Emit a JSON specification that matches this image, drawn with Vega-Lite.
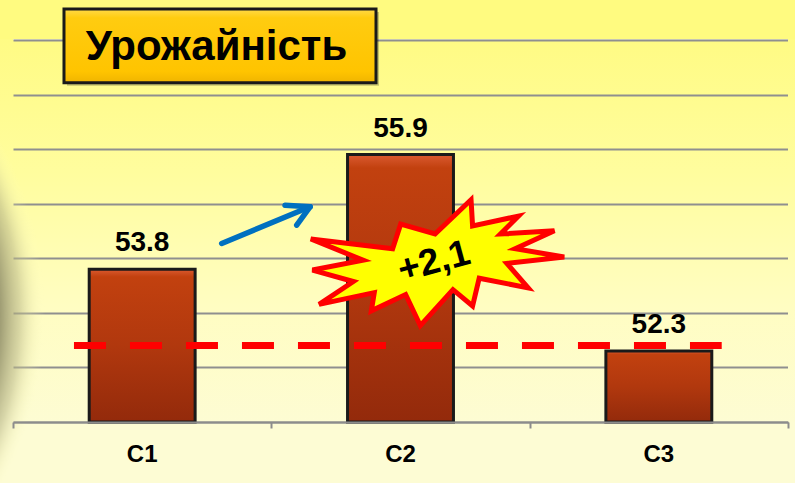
{
  "$schema": "https://vega.github.io/schema/vega-lite/v6.json",
  "width": 775,
  "height": 382,
  "autosize": {"type": "none"},
  "padding": {"left": 13, "top": 40, "right": 7, "bottom": 61},
  "background": "#FDFCD4",
  "config": {
    "font": "Liberation Sans",
    "view": {
      "stroke": null,
      "fill": {
        "gradient": "linear", "x1": 0, "y1": 0, "x2": 0, "y2": 1,
        "stops": [
          {"offset": 0, "color": "#FFFB84"},
          {"offset": 0.35, "color": "#FFFD9E"},
          {"offset": 0.7, "color": "#FFFDC2"},
          {"offset": 1, "color": "#FDFCD3"}
        ]
      }
    },
    "axisY": {
      "grid": true, "labels": false, "ticks": false, "domain": false,
      "gridColor": "#8F8F8F", "gridWidth": 2
    }
  },
  "data": {"values": [
    {"cat": "C1", "value": 53.8},
    {"cat": "C2", "value": 55.9},
    {"cat": "C3", "value": 52.3}
  ]},
  "resolve": {"scale": {"x": "independent"}},
  "layer": [
    {
      "data": {"values": [{}]},
      "mark": {"type": "rect", "fill": "#FFFB80"},
      "encoding": {
        "x": {"datum": -0.06, "type": "quantitative", "scale": {"domain": [0, 3], "nice": false, "zero": false},
          "axis": {"values": [0, 1, 2, 3], "labels": false, "domain": false, "ticks": true, "tickColor": "#8C8C8C", "tickWidth": 2, "tickSize": 6, "grid": false, "orient": "bottom", "title": null, "zindex": 1}},
        "x2": {"datum": 3.03},
        "y": {"datum": 58.76, "type": "quantitative", "scale": {"domain": [51, 58], "nice": false, "zero": false}},
        "y2": {"datum": 58.018}
      }
    },
    {
      "data": {"values": [{}]},
      "mark": {
        "type": "rect",
        "fill": {
          "gradient": "linear", "x1": 0, "y1": 0, "x2": 0, "y2": 1,
          "stops": [
            {"offset": 0, "color": "#FFFB84"},
            {"offset": 0.35, "color": "#FFFD9E"},
            {"offset": 0.7, "color": "#FFFDC2"},
            {"offset": 1, "color": "#FDFCD3"}
          ]
        }
      },
      "encoding": {
        "x": {"datum": -0.06, "type": "quantitative", "scale": {"domain": [0, 3], "nice": false, "zero": false}, "axis": null},
        "x2": {"datum": 0},
        "y": {"datum": 58.018, "type": "quantitative", "scale": {"domain": [51, 58], "nice": false, "zero": false}},
        "y2": {"datum": 51}
      }
    },
    {
      "data": {"values": [{}]},
      "mark": {
        "type": "rect",
        "fill": {
          "gradient": "linear", "x1": 0, "y1": 0, "x2": 0, "y2": 1,
          "stops": [
            {"offset": 0, "color": "#FFFB84"},
            {"offset": 0.35, "color": "#FFFD9E"},
            {"offset": 0.7, "color": "#FFFDC2"},
            {"offset": 1, "color": "#FDFCD3"}
          ]
        }
      },
      "encoding": {
        "x": {"datum": 3, "type": "quantitative", "scale": {"domain": [0, 3], "nice": false, "zero": false}, "axis": null},
        "x2": {"datum": 3.04},
        "y": {"datum": 58.018, "type": "quantitative", "scale": {"domain": [51, 58], "nice": false, "zero": false}},
        "y2": {"datum": 51}
      }
    },
    {
      "data": {"values": [{}]},
      "mark": {
        "type": "rect",
        "fill": {
          "gradient": "radial", "x1": 0.5, "y1": 0.5, "r1": 0, "x2": 0.5, "y2": 0.5, "r2": 0.4123,
          "stops": [
            {"offset": 0, "color": "rgba(145,143,105,0.88)"},
            {"offset": 0.876, "color": "rgba(145,143,105,0.88)"},
            {"offset": 0.93, "color": "rgba(185,183,135,0.55)"},
            {"offset": 0.97, "color": "rgba(230,228,170,0.22)"},
            {"offset": 1, "color": "rgba(255,255,200,0)"}
          ]
        }
      },
      "encoding": {
        "x": {"datum": -2.9838, "type": "quantitative", "scale": {"domain": [0, 3], "nice": false, "zero": false}, "axis": null},
        "x2": {"datum": 0.4227},
        "y": {"datum": 56.991, "type": "quantitative", "scale": {"domain": [51, 58], "nice": false, "zero": false}},
        "y2": {"datum": 48.922}
      }
    },
    {
      "mark": {
        "type": "bar",
        "stroke": "#1A1A1A",
        "strokeWidth": 3,
        "fill": {
          "gradient": "linear", "x1": 0, "y1": 0, "x2": 0, "y2": 1,
          "stops": [
            {"offset": 0, "color": "#DA5A30"},
            {"offset": 0.05, "color": "#C2410F"},
            {"offset": 0.5, "color": "#B1380E"},
            {"offset": 1, "color": "#932A0B"}
          ]
        }
      },
      "encoding": {
        "x": {
          "field": "cat", "type": "nominal",
          "scale": {"paddingInner": 0.59, "paddingOuter": 0.295},
          "axis": {
            "orient": "bottom",
            "title": null, "labelAngle": 0, "labelFontSize": 24, "labelFontWeight": "bold",
            "labelColor": "#000000", "labelPadding": 20,
            "domainColor": "#8C8C8C", "domainWidth": 2,
            "ticks": false, "grid": false, "zindex": 1
          }
        },
        "y": {
          "field": "value", "type": "quantitative",
          "scale": {"domain": [51, 58], "nice": false, "zero": false},
          "axis": {"values": [51, 52, 53, 54, 55, 56, 57, 58], "title": null}
        },
        "y2": {"datum": 51}
      }
    },
    {
      "mark": {"type": "text", "fontSize": 28, "fontWeight": "bold", "dy": -18, "baseline": "alphabetic", "align": "center", "fill": "#000000"},
      "encoding": {
        "x": {"field": "cat", "type": "nominal", "scale": {"paddingInner": 0.59, "paddingOuter": 0.295}, "axis": null},
        "y": {"field": "value", "type": "quantitative", "scale": {"domain": [51, 58], "nice": false, "zero": false}},
        "text": {"field": "value", "type": "quantitative", "format": ".1f"}
      }
    },
    {
      "data": {"values": [{}]},
      "mark": {"type": "rule", "color": "#FF0000", "strokeWidth": 7, "strokeDash": [32, 24], "strokeCap": "butt"},
      "encoding": {
        "x": {"datum": 0.236, "type": "quantitative", "scale": {"domain": [0, 3], "nice": false, "zero": false}, "axis": null},
        "x2": {"datum": 2.7434},
        "y": {"datum": 52.4, "type": "quantitative", "scale": {"domain": [51, 58], "nice": false, "zero": false}}
      }
    },
    {
      "data": {"values": [{}]},
      "mark": {"type": "rule", "color": "#0070C0", "strokeWidth": 5.5, "strokeCap": "round"},
      "encoding": {
        "x": {"datum": 0.8079, "type": "quantitative", "scale": {"domain": [0, 3], "nice": false, "zero": false}, "axis": null},
        "x2": {"datum": 1.1497},
        "y": {"datum": 54.272, "type": "quantitative", "scale": {"domain": [51, 58], "nice": false, "zero": false}},
        "y2": {"datum": 54.943}
      }
    },
    {
      "data": {"values": [{}]},
      "mark": {"type": "rule", "color": "#0070C0", "strokeWidth": 5.5, "strokeCap": "round"},
      "encoding": {
        "x": {"datum": 1.0529, "type": "quantitative", "scale": {"domain": [0, 3], "nice": false, "zero": false}, "axis": null},
        "x2": {"datum": 1.1497},
        "y": {"datum": 54.974, "type": "quantitative", "scale": {"domain": [51, 58], "nice": false, "zero": false}},
        "y2": {"datum": 54.943}
      }
    },
    {
      "data": {"values": [{}]},
      "mark": {"type": "rule", "color": "#0070C0", "strokeWidth": 5.5, "strokeCap": "round"},
      "encoding": {
        "x": {"datum": 1.0982, "type": "quantitative", "scale": {"domain": [0, 3], "nice": false, "zero": false}, "axis": null},
        "x2": {"datum": 1.1497},
        "y": {"datum": 54.607, "type": "quantitative", "scale": {"domain": [51, 58], "nice": false, "zero": false}},
        "y2": {"datum": 54.943}
      }
    },
    {
      "data": {"values": [{}]},
      "mark": {
        "type": "point", "filled": true, "opacity": 1, "fill": "#FFFF00", "stroke": "#FF0000", "strokeWidth": 5, "strokeJoin": "miter",
        "size": 65025,
        "shape": "M0.267,-0.494 L0.279,-0.288 L0.638,-0.365 L0.498,-0.225 L0.921,-0.25 L0.613,-0.109 L0.998,-0.045 L0.548,0.006 L0.715,0.198 L0.331,0.122 L0.279,0.34 L0.125,0.212 L-0.131,0.494 L-0.246,0.25 L-0.515,0.378 L-0.492,0.235 L-0.925,0.327 L-0.656,0.148 L-0.977,0.058 L-0.579,-0.019 L-0.99,-0.186 L-0.348,-0.109 L-0.285,-0.302 L-0.015,-0.225 Z"
      },
      "encoding": {
        "x": {"datum": 1.6413, "type": "quantitative", "scale": {"domain": [0, 3], "nice": false, "zero": false}, "axis": null},
        "y": {"datum": 53.92, "type": "quantitative", "scale": {"domain": [51, 58], "nice": false, "zero": false}}
      }
    },
    {
      "data": {"values": [{"t": "+2,1"}]},
      "mark": {"type": "text", "fontSize": 37, "fontWeight": "bold", "angle": -15, "align": "center", "baseline": "middle", "fill": "#000000"},
      "encoding": {
        "x": {"datum": 1.63, "type": "quantitative", "scale": {"domain": [0, 3], "nice": false, "zero": false}, "axis": null},
        "y": {"datum": 53.93, "type": "quantitative", "scale": {"domain": [51, 58], "nice": false, "zero": false}},
        "text": {"field": "t", "type": "nominal"}
      }
    },
    {
      "data": {"values": [{}]},
      "mark": {"type": "rect", "fill": "rgba(0,0,0,0.22)"},
      "encoding": {
        "x": {"datum": 0.2090, "type": "quantitative", "scale": {"domain": [0, 3], "nice": false, "zero": false}, "axis": null},
        "x2": {"datum": 1.4168},
        "y": {"datum": 58.513, "type": "quantitative", "scale": {"domain": [51, 58], "nice": false, "zero": false}},
        "y2": {"datum": 57.162}
      }
    },
    {
      "data": {"values": [{}]},
      "mark": {
        "type": "rect", "stroke": "#1A1A1A", "strokeWidth": 3,
        "fill": {
          "gradient": "linear", "x1": 0, "y1": 0, "x2": 0, "y2": 1,
          "stops": [
            {"offset": 0, "color": "#FFDA4A"},
            {"offset": 0.12, "color": "#FFCC10"},
            {"offset": 0.85, "color": "#FFC400"},
            {"offset": 1, "color": "#F0B400"}
          ]
        }
      },
      "encoding": {
        "x": {"datum": 0.1974, "type": "quantitative", "scale": {"domain": [0, 3], "nice": false, "zero": false}, "axis": null},
        "x2": {"datum": 1.4052},
        "y": {"datum": 58.5685, "type": "quantitative", "scale": {"domain": [51, 58], "nice": false, "zero": false}},
        "y2": {"datum": 57.217}
      }
    },
    {
      "data": {"values": [{"t": "Урожайність"}]},
      "mark": {"type": "text", "fontSize": 42, "fontWeight": "bold", "align": "center", "baseline": "alphabetic", "fill": "#000000"},
      "encoding": {
        "x": {"datum": 0.7877, "type": "quantitative", "scale": {"domain": [0, 3], "nice": false, "zero": false}, "axis": null},
        "y": {"datum": 57.633, "type": "quantitative", "scale": {"domain": [51, 58], "nice": false, "zero": false}},
        "text": {"field": "t", "type": "nominal"}
      }
    }
  ]
}
